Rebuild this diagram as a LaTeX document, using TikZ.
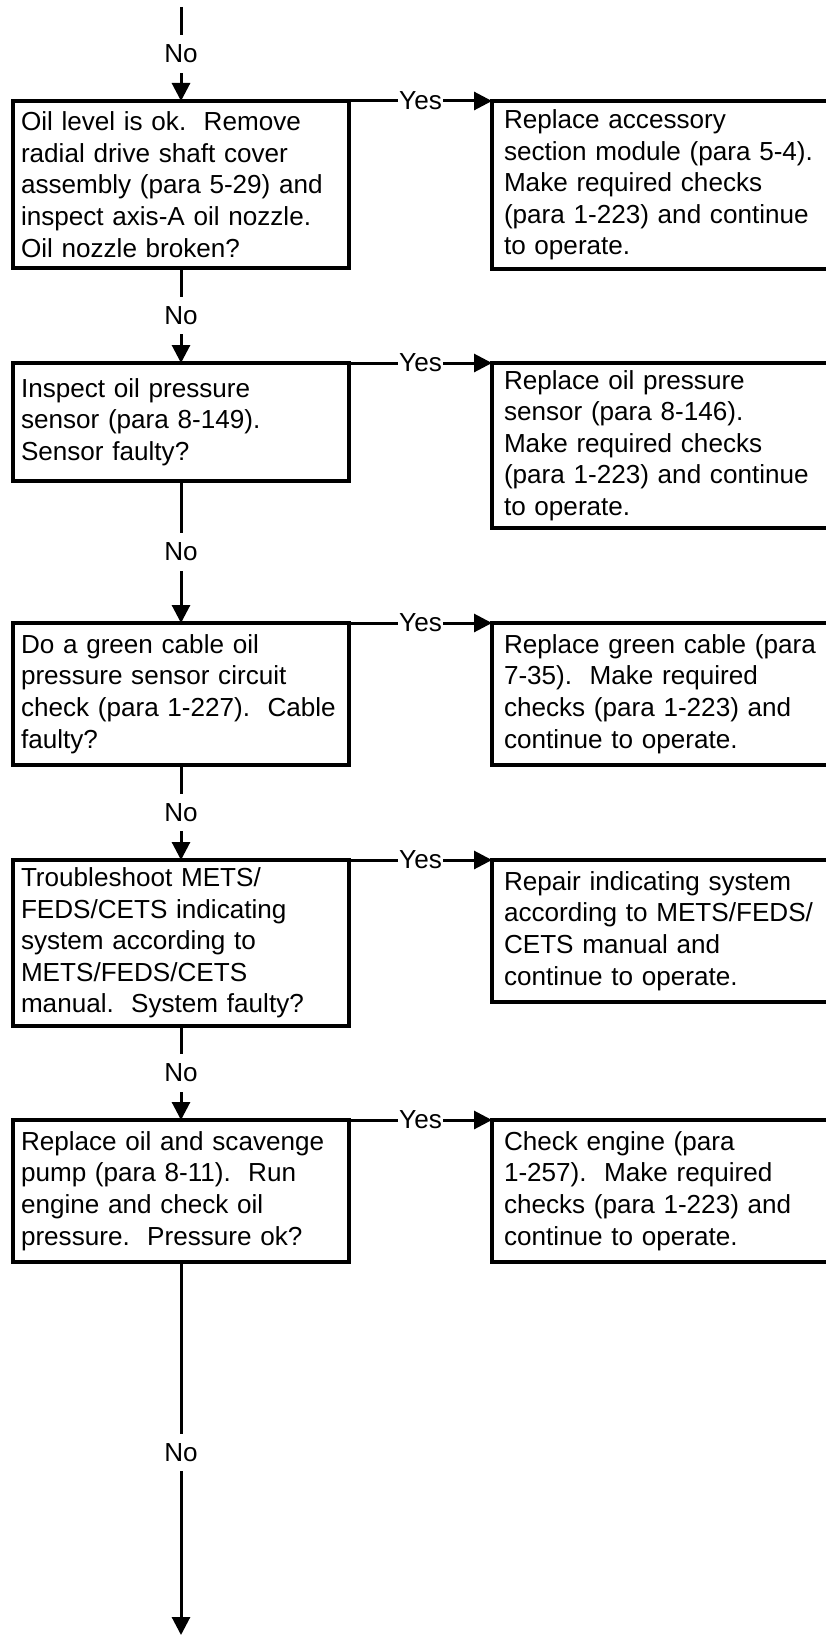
\documentclass[tikz,border=0pt]{standalone}
\usepackage{fontspec}
\setmainfont{Liberation Sans}
\usetikzlibrary{arrows.meta,positioning}
\frenchspacing
\hyphenpenalty=10000

\tikzset{
  chartfont/.style={font=\fontsize{26.1}{31.6}\selectfont},
  qbox/.style={draw, line width=3.2pt, outer sep=0pt, chartfont, align=left,
    text width=320pt, inner xsep=8pt, inner ysep=4pt},
  actbox/.style={qbox, inner xsep=12pt, anchor=north west},
  lbl/.style={fill=white, chartfont},
  nolbl/.style={lbl, inner xsep=2pt, inner ysep=9.5pt},
  yeslbl/.style={lbl, inner xsep=1.5pt, inner ysep=1pt},
  flow/.style={line width=3pt, -{Triangle[length=18pt,width=18pt]}},
}

\begin{document}
\begin{tikzpicture}[x=1pt,y=-1pt]
    \useasboundingbox (0,0) rectangle (825,1635);

    % decision column
    \node[qbox, minimum height=167pt] (q1) at (181,184.5)
        {Oil level is ok.~ Remove\\ radial drive shaft cover\\ assembly (para 5-29) and\\ inspect axis-A oil nozzle.\\ Oil nozzle broken?};
    \node[qbox, minimum height=118pt, below=95pt of q1] (q2)
        {Inspect oil pressure\\ sensor (para 8-149).\\ Sensor faulty?};
    \node[qbox, minimum height=142pt, below=142pt of q2] (q3)
        {Do a green cable oil\\ pressure sensor circuit\\ check (para 1-227).~ Cable\\ faulty?};
    \node[qbox, minimum height=166pt, below=95pt of q3] (q4)
        {Troubleshoot METS/\\ FEDS/CETS indicating\\ system according to\\ METS/FEDS/CETS\\ manual.~ System faulty?};
    \node[qbox, minimum height=142pt, below=94pt of q4] (q5)
        {Replace oil and scavenge\\ pump (para 8-11).~ Run\\ engine and check oil\\ pressure.~ Pressure ok?};

    % action column
    \node[actbox, minimum height=168pt] (a1) at ([xshift=143pt]q1.north east)
        {Replace accessory\\ section module (para 5-4).\\ Make required checks\\ (para 1-223) and continue\\ to operate.};
    \node[actbox, minimum height=165pt] (a2) at ([xshift=143pt]q2.north east)
        {Replace oil pressure\\ sensor (para 8-146).\\ Make required checks\\ (para 1-223) and continue\\ to operate.};
    \node[actbox, minimum height=142pt] (a3) at ([xshift=143pt]q3.north east)
        {Replace green cable (para\\ 7-35).~ Make required\\ checks (para 1-223) and\\ continue to operate.};
    \node[actbox, minimum height=142pt] (a4) at ([xshift=143pt]q4.north east)
        {Repair indicating system\\ according to METS/FEDS/\\ CETS manual and\\ continue to operate.};
    \node[actbox, minimum height=142pt] (a5) at ([xshift=143pt]q5.north east)
        {Check engine (para\\ 1-257).~ Make required\\ checks (para 1-223) and\\ continue to operate.};

    % No branches
    \coordinate (entry) at (181,7);
    \coordinate (exit) at (181,1635);
    \draw[flow] (entry) -- node[nolbl] {No} (q1.north);
    \draw[flow] (q1.south) -- node[nolbl] {No} (q2.north);
    \draw[flow] (q2.south) -- node[nolbl] {No} (q3.north);
    \draw[flow] (q3.south) -- node[nolbl] {No} (q4.north);
    \draw[flow] (q4.south) -- node[nolbl] {No} (q5.north);
    \draw[flow] (q5.south) -- node[nolbl, pos=0.51] {No} (exit);

    % Yes branches
    \foreach \i in {1,...,5}
        \draw[flow] (q\i.north east) -- node[yeslbl] {Yes} (a\i.north west);
\end{tikzpicture}
\end{document}
